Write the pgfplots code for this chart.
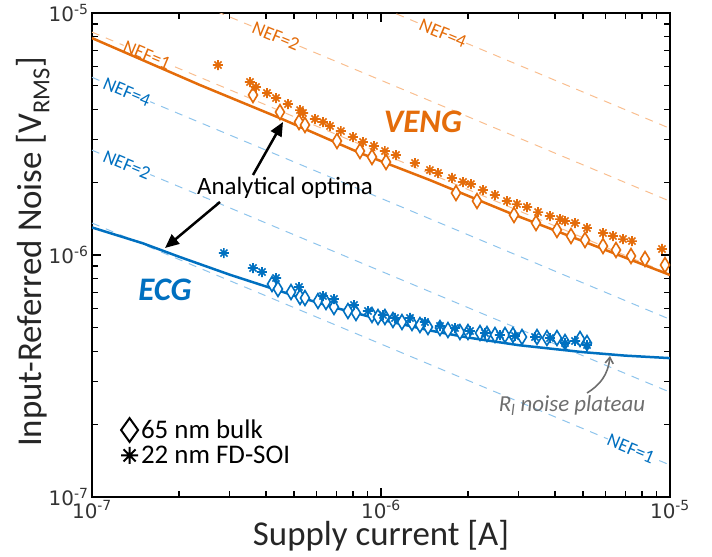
\documentclass[border=0pt]{standalone}
\usepackage{pgfplots}
\pgfplotsset{compat=1.18}
\usepackage{fontspec}
\setmainfont{Carlito}
\newfontfamily\tickfont{DejaVu Sans}
\usetikzlibrary{arrows.meta}
\definecolor{cor}{HTML}{E46C0A}
\definecolor{cbl}{HTML}{0070C0}
\definecolor{lor}{HTML}{F9BE8F}
\definecolor{lbl}{HTML}{8EC4EC}
\definecolor{cgr}{HTML}{6E6E6E}

\pgfdeclareplotmark{tallDiamond}{%
  \pgfpathmoveto{\pgfqpoint{0pt}{1.65\pgfplotmarksize}}%
  \pgfpathlineto{\pgfqpoint{\pgfplotmarksize}{0pt}}%
  \pgfpathlineto{\pgfqpoint{0pt}{-1.65\pgfplotmarksize}}%
  \pgfpathlineto{\pgfqpoint{-\pgfplotmarksize}{0pt}}%
  \pgfpathclose
  \pgfusepathqfillstroke}
\pgfdeclareplotmark{legDiamond}{%
  \pgfpathmoveto{\pgfqpoint{0pt}{1.4\pgfplotmarksize}}%
  \pgfpathlineto{\pgfqpoint{\pgfplotmarksize}{0pt}}%
  \pgfpathlineto{\pgfqpoint{0pt}{-1.4\pgfplotmarksize}}%
  \pgfpathlineto{\pgfqpoint{-\pgfplotmarksize}{0pt}}%
  \pgfpathclose
  \pgfusepathqfillstroke}
\pgfdeclareplotmark{star8}{%
  \pgfpathmoveto{\pgfqpoint{-\pgfplotmarksize}{0pt}}\pgfpathlineto{\pgfqpoint{\pgfplotmarksize}{0pt}}%
  \pgfpathmoveto{\pgfqpoint{0pt}{-\pgfplotmarksize}}\pgfpathlineto{\pgfqpoint{0pt}{\pgfplotmarksize}}%
  \pgfpathmoveto{\pgfqpoint{-.707\pgfplotmarksize}{-.707\pgfplotmarksize}}\pgfpathlineto{\pgfqpoint{.707\pgfplotmarksize}{.707\pgfplotmarksize}}%
  \pgfpathmoveto{\pgfqpoint{-.707\pgfplotmarksize}{.707\pgfplotmarksize}}\pgfpathlineto{\pgfqpoint{.707\pgfplotmarksize}{-.707\pgfplotmarksize}}%
  \pgfusepathqstroke}

\begin{document}
\begin{tikzpicture}
\begin{axis}[
  at={(0,0)}, anchor=south west,
  scale only axis, width=578bp, height=484bp,
  xmode=log, ymode=log,
  xmin=1e-7, xmax=1e-5, ymin=1e-7, ymax=1e-5,
  xtick={1e-7,1e-6,1e-5},
  xticklabels={10\textsuperscript{-7},10\textsuperscript{-6},10\textsuperscript{-5}},
  ytick={1e-7,1e-6,1e-5},
  yticklabels={10\textsuperscript{-7},10\textsuperscript{-6},10\textsuperscript{-5}},
  minor xtick={2e-7,3e-7,4e-7,5e-7,6e-7,7e-7,8e-7,9e-7,2e-6,3e-6,4e-6,5e-6,6e-6,7e-6,8e-6,9e-6},
  minor ytick={2e-7,3e-7,4e-7,5e-7,6e-7,7e-7,8e-7,9e-7,2e-6,3e-6,4e-6,5e-6,6e-6,7e-6,8e-6,9e-6},
  tick align=inside, xtick pos=both, ytick pos=both,
  xticklabel pos=bottom, yticklabel pos=left,
  major tick length=9bp, minor tick length=6bp,
  axis line style={line width=1.6bp, black},
  tick style={line width=1.2bp, black},
  ticklabel style={font=\tickfont\fontsize{20}{24}\selectfont, text=black!80},
  legend style={draw=none, fill=none, at={(0.05,0.066)}, anchor=south west,
    font=\fontsize{27}{32}\selectfont, inner sep=0pt, row sep=4bp, legend cell align=left,
    nodes={inner xsep=3bp, inner ysep=0pt}},
]
% legend images
\addlegendimage{only marks, mark=legDiamond, mark size=8.5bp, black, fill=white, line width=2bp}
\addlegendentry{65 nm bulk}
\addlegendimage{only marks, mark=star8, mark size=8.5bp, black, line width=2bp}
\addlegendentry{22 nm FD-SOI}

% NEF lines (orange)
\addplot[lor, line width=1bp, dash pattern=on 8bp off 7bp, forget plot] coordinates {(1e-7,8.34e-6) (1e-5,8.34e-7)};
\addplot[lor, line width=1bp, dash pattern=on 8bp off 7bp, forget plot] coordinates {(1e-7,1.668e-5) (1e-5,1.668e-6)};
\addplot[lor, line width=1bp, dash pattern=on 8bp off 7bp, forget plot] coordinates {(1e-7,3.336e-5) (1e-5,3.336e-6)};
% NEF lines (blue)
\addplot[lbl, line width=1bp, dash pattern=on 8bp off 7bp, forget plot] coordinates {(1e-7,1.356e-6) (1e-5,1.356e-7)};
\addplot[lbl, line width=1bp, dash pattern=on 8bp off 7bp, forget plot] coordinates {(1e-7,2.712e-6) (1e-5,2.712e-7)};
\addplot[lbl, line width=1bp, dash pattern=on 8bp off 7bp, forget plot] coordinates {(1e-7,5.424e-6) (1e-5,5.424e-7)};

% NEF labels
\begin{scope}[every node/.style={fill=white, inner sep=0.5bp, rotate=-22.7, font=\fontsize{19}{21}\selectfont}]
\node[text=cor] at (axis cs:1.55e-7,6.70e-6) {NEF=1};
\node[text=cor] at (axis cs:4.333e-7,8.01e-6) {NEF=2};
\node[text=cor] at (axis cs:1.639e-6,8.24e-6) {NEF=4};
\node[text=cbl] at (axis cs:1.322e-7,4.717e-6) {NEF=4};
\node[text=cbl] at (axis cs:1.322e-7,2.359e-6) {NEF=2};
\node[text=cbl] at (axis cs:7.331e-6,1.584e-7) {NEF=1};
\end{scope}

% analytical optima
\addplot[cor, line width=2.5bp, forget plot] coordinates {
(1e-7,7.88e-6) (2.364e-7,5.04e-6) (4.47e-7,3.68e-6) (8.46e-7,2.64e-6) (1.477e-6,2.04e-6) (2.795e-6,1.49e-6) (4.88e-6,1.153e-6) (1e-5,8.27e-7)};
\addplot[cbl, line width=2.5bp, forget plot] coordinates {
(1e-7,1.30e-6) (1.5e-7,1.118e-6) (2e-7,9.84e-7) (3e-7,8.29e-7) (5e-7,6.80e-7) (7e-7,6.04e-7) (1e-6,5.41e-7) (1.5e-6,4.86e-7) (2e-6,4.56e-7) (3e-6,4.24e-7) (5e-6,3.97e-7) (7e-6,3.84e-7) (1e-5,3.75e-7)};

% VENG 65 nm bulk
\addplot[only marks, mark=tallDiamond, mark size=4.5bp, cor, fill=white, line width=1.6bp, forget plot] coordinates {
(3.607e-7,4.584e-6) (4.472e-7,3.897e-6) (5.204e-7,3.545e-6) (5.458e-7,3.446e-6) (7.043e-7,2.959e-6)
(8.458e-7,2.690e-6) (9.309e-7,2.541e-6) (1.041e-6,2.423e-6) (1.818e-6,1.804e-6) (2.149e-6,1.672e-6)
(2.886e-6,1.463e-6) (3.439e-6,1.356e-6) (4.064e-6,1.269e-6) (4.545e-6,1.198e-6) (5.081e-6,1.153e-6)
(5.865e-6,1.089e-6) (6.504e-6,1.049e-6) (7.331e-6,0.9906e-6) (8.194e-6,0.9627e-6) (9.610e-6,0.9093e-6)};
% VENG 22 nm FD-SOI
\addplot[only marks, mark=star8, mark size=5bp, cor, line width=1.6bp, forget plot] coordinates {
(2.729e-7,6.097e-6) (3.522e-7,5.186e-6) (3.694e-7,4.945e-6) (4.033e-7,4.671e-6) (4.333e-7,4.455e-6)
(4.767e-7,4.207e-6) (5.246e-7,3.972e-6) (5.373e-7,3.863e-6) (5.910e-7,3.648e-6) (6.300e-7,3.545e-6)
(6.661e-7,3.413e-6) (7.270e-7,3.254e-6) (8.000e-7,3.073e-6) (8.663e-7,2.931e-6) (9.458e-7,2.821e-6)
(1.032e-6,2.690e-6) (1.127e-6,2.589e-6) (1.311e-6,2.400e-6) (1.477e-6,2.245e-6) (1.575e-6,2.182e-6)
(1.761e-6,2.081e-6) (1.922e-6,2.003e-6) (2.048e-6,1.965e-6) (2.254e-6,1.856e-6) (2.480e-6,1.770e-6)
(2.729e-6,1.672e-6) (2.955e-6,1.624e-6) (3.201e-6,1.579e-6) (3.495e-6,1.505e-6) (3.844e-6,1.449e-6)
(4.163e-6,1.408e-6) (4.333e-6,1.382e-6) (4.692e-6,1.356e-6) (5.162e-6,1.293e-6) (5.865e-6,1.233e-6)
(6.350e-6,1.198e-6) (6.878e-6,1.164e-6) (7.389e-6,1.142e-6) (9.383e-6,1.059e-6)};
% ECG 65 nm bulk
\addplot[only marks, mark=tallDiamond, mark size=4.5bp, cbl, fill=white, line width=1.6bp, forget plot] coordinates {
(4.197e-7,7.588e-7) (4.401e-7,7.236e-7) (4.883e-7,7.033e-7) (5.246e-7,6.706e-7) (5.458e-7,6.643e-7)
(6.053e-7,6.456e-7) (6.452e-7,6.395e-7) (6.877e-7,6.097e-7) (7.687e-7,5.870e-7) (8.193e-7,5.759e-7)
(9.309e-7,5.651e-7) (9.764e-7,5.545e-7) (1.032e-6,5.545e-7) (1.100e-6,5.389e-7) (1.182e-6,5.286e-7)
(1.280e-6,5.236e-7) (1.364e-6,5.137e-7) (1.454e-6,5.040e-7) (1.600e-6,4.993e-7) (1.705e-6,4.898e-7)
(1.876e-6,4.806e-7) (2.000e-6,4.806e-7) (2.201e-6,4.761e-7) (2.327e-6,4.716e-7) (2.480e-6,4.672e-7)
(2.686e-6,4.672e-7) (2.862e-6,4.672e-7) (3.076e-6,4.584e-7) (3.467e-6,4.584e-7) (3.753e-6,4.540e-7)
(4.064e-6,4.540e-7) (4.333e-6,4.371e-7) (4.884e-6,4.498e-7) (5.162e-6,4.329e-7)};
% ECG 22 nm FD-SOI
\addplot[only marks, mark=star8, mark size=5bp, cbl, line width=1.6bp, forget plot] coordinates {
(2.862e-7,1.019e-6) (3.607e-7,8.837e-7) (3.875e-7,8.507e-7) (4.333e-7,8.035e-7) (5.204e-7,7.375e-7)
(6.300e-7,6.770e-7) (6.877e-7,6.580e-7) (8.064e-7,6.215e-7) (9.016e-7,5.870e-7) (1.016e-6,5.651e-7)
(1.118e-6,5.493e-7) (1.260e-6,5.493e-7) (1.420e-6,5.286e-7) (1.600e-6,5.089e-7) (1.804e-6,4.993e-7)
(2.032e-6,4.853e-7) (2.291e-6,4.761e-7) (2.581e-6,4.672e-7) (2.909e-6,4.628e-7) (3.412e-6,4.584e-7)
(3.844e-6,4.540e-7) (4.333e-6,4.329e-7) (4.692e-6,4.413e-7) (5.162e-6,4.247e-7)};
\end{axis}

\begin{scope}[x=1bp, y=-1bp, shift={(-92bp,497bp)}]
\node[anchor=base, font=\fontsize{35}{40}\selectfont, text=black!85] at (381,546) {Supply current [A]};
\node[rotate=90, anchor=base, font=\fontsize{35}{40}\selectfont, text=black!85] at (42,252) {Input-Referred Noise [V\textsubscript{RMS}]};
\node[anchor=base, font=\fontsize{25}{30}\selectfont] at (285,195) {Analytical optima};
\node[anchor=base, font=\fontsize{33}{38}\selectfont\bfseries\itshape, text=cor] at (423,133) {VENG};
\node[anchor=base, font=\fontsize{33}{38}\selectfont\bfseries\itshape, text=cbl] at (165,301) {ECG};
\node[anchor=base, font=\fontsize{23}{28}\selectfont\itshape, text=cgr] at (572,412) {R\textsubscript{l} noise plateau};
\draw[line width=2.5bp, -{Triangle[length=14bp,width=12bp]}] (253,175) -- (283,122);
\draw[line width=2.5bp, -{Triangle[length=14bp,width=12bp]}] (220,202) -- (165,248);
\draw[cgr, line width=1.6bp, -{Straight Barb[length=6bp,width=8bp]}] (587,393) .. controls (600,385) and (608,375) .. (610,356);
\end{scope}
\pgfresetboundingbox
\path[use as bounding box] (-92bp,-60bp) rectangle (620bp,497bp);
\end{tikzpicture}
\end{document}
